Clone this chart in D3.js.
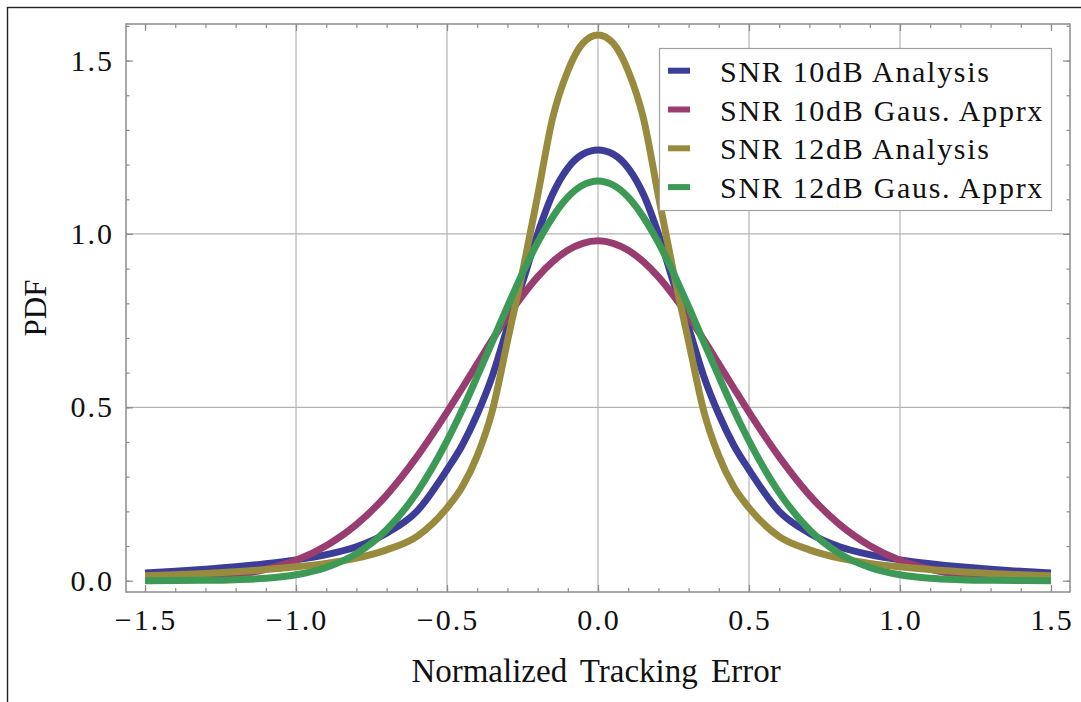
<!DOCTYPE html>
<html>
<head>
<meta charset="utf-8">
<script src="https://cdn.jsdelivr.net/npm/d3@7"></script>
<style>
  body { margin: 0; background: #ffffff; }
  svg { display: block; }
</style>
</head>
<body>
<div id="chart"></div>
<script>
// PDF of normalized tracking error
const xs = [-1.5, -1.4, -1.3, -1.2, -1.1, -1.0, -0.9, -0.8, -0.7, -0.6, -0.5, -0.45, -0.4, -0.35, -0.3, -0.25, -0.2, -0.15, -0.1, -0.05,
    0, 0.05, 0.1, 0.15, 0.2, 0.25, 0.3, 0.35, 0.4, 0.45, 0.5, 0.6, 0.7, 0.8, 0.9, 1.0, 1.1, 1.2, 1.3, 1.4, 1.5];

const snr10Analysis = [0.022, 0.027, 0.033, 0.040, 0.049, 0.060, 0.075, 0.098, 0.137, 0.20, 0.32, 0.39, 0.48, 0.59, 0.73, 0.86, 1.0, 1.115, 1.19, 1.23,
    1.242, 1.23, 1.19, 1.115, 1.0, 0.86, 0.73, 0.59, 0.48, 0.39, 0.32, 0.20, 0.137, 0.098, 0.075, 0.060, 0.049, 0.040, 0.033, 0.027, 0.022];

const snr10Gauss = [0.002, 0.004, 0.009, 0.017, 0.033, 0.059, 0.101, 0.162, 0.247, 0.357, 0.486, 0.555, 0.625, 0.695, 0.761, 0.822, 0.876, 0.920, 0.953, 0.973,
    0.980, 0.973, 0.953, 0.920, 0.876, 0.822, 0.761, 0.695, 0.625, 0.555, 0.486, 0.357, 0.247, 0.162, 0.101, 0.059, 0.033, 0.017, 0.009, 0.004, 0.002];

const snr12Analysis = [0.014, 0.017, 0.021, 0.026, 0.032, 0.040, 0.050, 0.065, 0.089, 0.127, 0.21, 0.27, 0.36, 0.49, 0.69, 0.89, 1.11, 1.335, 1.47, 1.55,
    1.574, 1.55, 1.47, 1.335, 1.11, 0.89, 0.69, 0.49, 0.36, 0.27, 0.21, 0.127, 0.089, 0.065, 0.050, 0.040, 0.032, 0.026, 0.021, 0.017, 0.014];

const snr12Gauss = [0.0001, 0.0003, 0.001, 0.003, 0.007, 0.017, 0.038, 0.078, 0.147, 0.254, 0.403, 0.492, 0.589, 0.689, 0.790, 0.887, 0.975, 1.049, 1.106, 1.141,
    1.153, 1.141, 1.106, 1.049, 0.975, 0.887, 0.790, 0.689, 0.589, 0.492, 0.403, 0.254, 0.147, 0.078, 0.038, 0.017, 0.007, 0.003, 0.001, 0.0003, 0.0001];

const seriesNames = ["SNR 10dB Analysis", "SNR 10dB Gaus. Apprx", "SNR 12dB Analysis", "SNR 12dB Gaus. Apprx"];
const seriesValues = [snr10Analysis, snr10Gauss, snr12Analysis, snr12Gauss];

const xMajor = [-1.5, -1.0, -0.5, 0, 0.5, 1.0, 1.5];
const yMajor = [0, 0.5, 1.0, 1.5];
const xGrid = [-1.0, -0.5, 0, 0.5, 1.0];
const yGrid = [0.5, 1.0];

const COLORS = {
    series: ["#3d3d99", "#993d71", "#998b3d", "#3d9956"],
    frame: "#8c8c8c",
    grid: "#b4b4b4",
    text: "#111111"
};

const W = 1081, H = 702;
const plot = { left: 126, right: 1070, top: 24, bottom: 592 };
const FONT = "'Liberation Serif', 'DejaVu Serif', serif";

const svg = d3.select("#chart").append("svg")
    .attr("width", W)
    .attr("height", H);

// outer image border (only top/left visible)
svg.append("rect")
    .attr("x", 7.5).attr("y", 7.5)
    .attr("width", W).attr("height", H)
    .attr("fill", "none")
    .attr("stroke", "#222")
    .attr("stroke-width", 1.4);

const x = d3.scaleLinear()
    .domain([-1.563, 1.563])
    .range([plot.left, plot.right]);

const y = d3.scaleLinear()
    .domain([-0.0326, 1.6054])
    .range([plot.bottom, plot.top]);

// grid lines
svg.append("g")
    .selectAll("line")
    .data(xGrid)
    .join("line")
    .attr("x1", d => x(d)).attr("x2", d => x(d))
    .attr("y1", plot.top).attr("y2", plot.bottom)
    .attr("stroke", COLORS.grid)
    .attr("stroke-width", 1.2);

svg.append("g")
    .selectAll("line")
    .data(yGrid)
    .join("line")
    .attr("y1", d => y(d)).attr("y2", d => y(d))
    .attr("x1", plot.left).attr("x2", plot.right)
    .attr("stroke", COLORS.grid)
    .attr("stroke-width", 1.2);

// ticks on all four sides, pointing inward
const xMinor = d3.range(-15, 16).map(d => d / 10);
const yMinor = d3.range(0, 17).map(d => d / 10);

function tickAxis(axis, values, size, transform) {
    const g = svg.append("g")
        .attr("transform", transform)
        .call(axis.tickValues(values).tickSize(-size).tickFormat(""));
    g.select(".domain").remove();
    g.selectAll("line").attr("stroke", COLORS.frame).attr("stroke-width", 1.2);
}

tickAxis(d3.axisBottom(x), xMinor, 4, `translate(0,${plot.bottom})`);
tickAxis(d3.axisBottom(x), xMajor, 7, `translate(0,${plot.bottom})`);
tickAxis(d3.axisTop(x), xMinor, 4, `translate(0,${plot.top})`);
tickAxis(d3.axisTop(x), xMajor, 7, `translate(0,${plot.top})`);
tickAxis(d3.axisLeft(y), yMinor, 3.5, `translate(${plot.left},0)`);
tickAxis(d3.axisLeft(y), yMajor, 7, `translate(${plot.left},0)`);
tickAxis(d3.axisRight(y), yMinor, 3.5, `translate(${plot.right},0)`);
tickAxis(d3.axisRight(y), yMajor, 7, `translate(${plot.right},0)`);

// frame
svg.append("rect")
    .attr("x", plot.left).attr("y", plot.top)
    .attr("width", plot.right - plot.left)
    .attr("height", plot.bottom - plot.top)
    .attr("fill", "none")
    .attr("stroke", COLORS.frame)
    .attr("stroke-width", 1.5);

// tick labels
const fmt = d3.format(".1f");

svg.append("g")
    .selectAll("text")
    .data(xMajor)
    .join("text")
    .attr("x", d => x(d) + 1)
    .attr("y", 630)
    .attr("text-anchor", "middle")
    .attr("font-family", FONT)
    .attr("font-size", 30)
    .attr("letter-spacing", 2)
    .attr("fill", COLORS.text)
    .text(d => fmt(d));

svg.append("g")
    .selectAll("text")
    .data(yMajor)
    .join("text")
    .attr("x", 114)
    .attr("y", d => y(d) + 10)
    .attr("text-anchor", "end")
    .attr("font-family", FONT)
    .attr("font-size", 30)
    .attr("letter-spacing", 2)
    .attr("fill", COLORS.text)
    .text(d => fmt(d));

// axis titles
svg.append("text")
    .attr("x", 596)
    .attr("y", 682)
    .attr("text-anchor", "middle")
    .attr("font-family", FONT)
    .attr("font-size", 33)
    .attr("word-spacing", 5)
    .attr("fill", COLORS.text)
    .text("Normalized Tracking Error");

svg.append("text")
    .attr("transform", `translate(46,${(plot.top + plot.bottom) / 2}) rotate(-90)`)
    .attr("text-anchor", "middle")
    .attr("font-family", FONT)
    .attr("font-size", 31)
    .attr("fill", COLORS.text)
    .text("PDF");

// curves
const line = d3.line()
    .x((d, i) => x(xs[i]))
    .y(d => y(d))
    .curve(d3.curveMonotoneX);

svg.append("g")
    .selectAll("path")
    .data(seriesValues)
    .join("path")
    .attr("d", d => line(d))
    .attr("fill", "none")
    .attr("stroke", (d, i) => COLORS.series[i])
    .attr("stroke-width", 7)
    .attr("stroke-linejoin", "round");

// legend
const legend = svg.append("g");

legend.append("rect")
    .attr("x", 659.5).attr("y", 48.5)
    .attr("width", 392).attr("height", 162)
    .attr("fill", "#ffffff")
    .attr("stroke", "#a0a0a0")
    .attr("stroke-width", 1.2);

const rows = legend.selectAll("g")
    .data(seriesNames)
    .join("g")
    .attr("transform", (d, i) => `translate(0,${70.7 + i * 38.8})`);

rows.append("line")
    .attr("x1", 668).attr("x2", 690)
    .attr("stroke", (d, i) => COLORS.series[i])
    .attr("stroke-width", 6);

rows.append("text")
    .attr("x", 720)
    .attr("y", 11)
    .attr("font-family", FONT)
    .attr("font-size", 30)
    .attr("letter-spacing", 1.7)
    .attr("fill", COLORS.text)
    .text(d => d);
</script>
</body>
</html>
